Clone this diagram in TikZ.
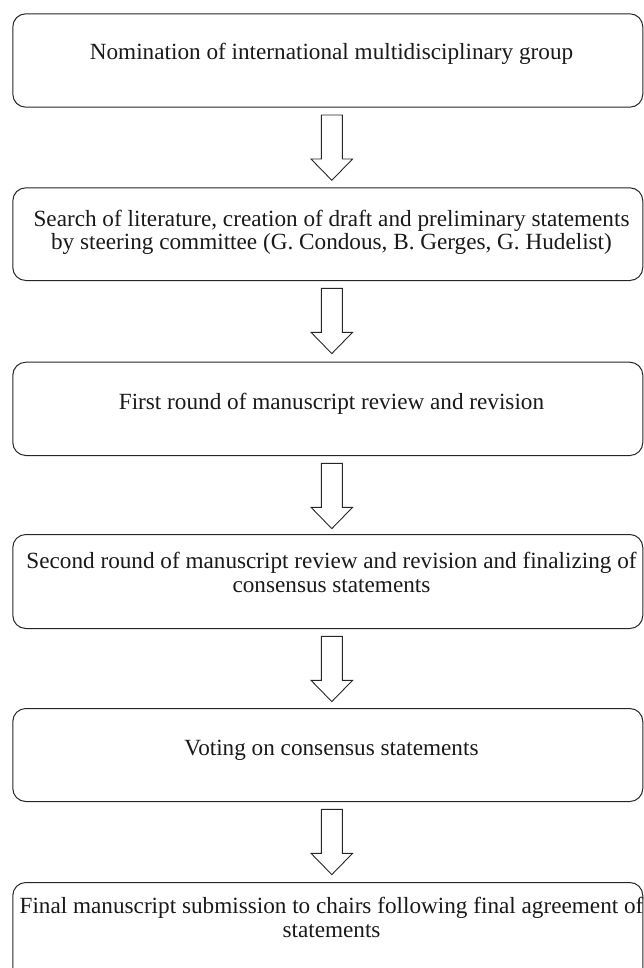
\documentclass[tikz,border=0pt]{standalone}
\usepackage{fontspec}
\setmainfont{Liberation Serif}
\usetikzlibrary{calc}
\begin{document}
\begin{tikzpicture}[x=1pt,y=-1pt,
  box/.style={draw=black!85, line width=1pt, rounded corners=13pt, minimum width=630pt, inner sep=0pt, anchor=north west},
  steptext/.style={font=\fontsize{23.2}{23.5}\selectfont, text=black!90, align=center, inner sep=0pt, anchor=base},
  arrowline/.style={draw=black!85, line width=0.9pt, line join=miter},
  downarrow/.pic={\draw[arrowline] (-10.5,7.3) -- (-10.5,51.3) -- (-20.8,51.3) -- (0,72.6) -- (20.8,51.3) -- (10.5,51.3) -- (10.5,7.3) -- cycle;}
]
\useasboundingbox (0,0) rectangle (643,968);
\node[box, minimum height=93.4pt] (b1) at (12.3,13.3) {};
\node[box, minimum height=92.7pt] (b2) at (12.3,187.3) {};
\node[box, minimum height=93.3pt] (b3) at (12.3,361.7) {};
\node[box, minimum height=94pt] (b4) at (12.3,534) {};
\node[box, minimum height=93pt] (b5) at (12.3,708) {};
\node[box, minimum height=103pt] (b6) at (12.3,882) {};
\node[steptext] (t1) at (331.5,60) {Nomination of international multidisciplinary group};
\node[steptext] (t2) at (331.5,250) {Search of literature, creation of draft and preliminary statements\\by steering committee (G. Condous, B. Gerges, G. Hudelist)};
\node[steptext] (t3) at (331.5,409) {First round of manuscript review and revision};
\node[steptext] (t4) at (331.5,592) {Second round of manuscript review and revision and finalizing of\\consensus statements};
\node[steptext] (t5) at (331.5,755) {Voting on consensus statements};
\node[steptext] (t6) at (331.5,937) {Final manuscript submission to chairs following final agreement of\\statements};
\pic at ($(b1.south)+(4,0)$) {downarrow};
\pic at ($(b2.south)+(4,0)$) {downarrow};
\pic at ($(b3.south)+(4,0)$) {downarrow};
\pic at ($(b4.south)+(4,0)$) {downarrow};
\pic at ($(b5.south)+(4,0)$) {downarrow};
\end{tikzpicture}
\end{document}
